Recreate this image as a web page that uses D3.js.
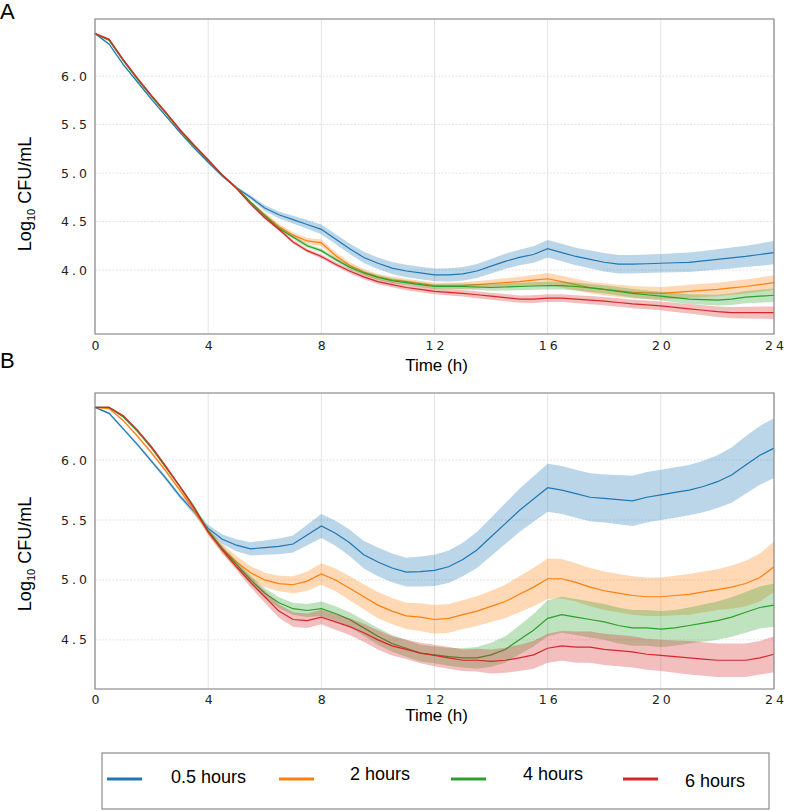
<!DOCTYPE html>
<html>
<head>
<meta charset="utf-8">
<script src="https://cdn.jsdelivr.net/npm/d3@7"></script>
<style>
  body { margin: 0; background: #fff; }
  svg { display: block; font-family: "Liberation Sans", Arial, sans-serif; }
  .tick text { font-family: "DejaVu Sans", sans-serif; font-size: 12.5px; letter-spacing: 3px; fill: #222; }
</style>
</head>
<body>
<div id="chart"></div>
<script>
let hours = [0, 0.5, 1, 1.5, 2, 2.5, 3, 3.5, 4, 4.5, 5, 5.5, 6, 6.5, 7, 7.5, 8, 8.5, 9, 9.5, 10, 10.5, 11, 11.5, 12,
  12.5, 13, 13.5, 14, 14.5, 15, 15.5, 16, 16.5, 17, 17.5, 18, 18.5, 19, 19.5, 20, 20.5, 21, 21.5, 22, 22.5, 23, 23.5, 24]

let seriesNames = ["0.5 hours", "2 hours", "4 hours", "6 hours"]
let xTicks = [0, 4, 8, 12, 16, 20, 24]
let yTicksA = [4.0, 4.5, 5.0, 5.5, 6.0]
let yTicksB = [4.5, 5.0, 5.5, 6.0]

// panel A means (log10 CFU/mL)
let aBlue = [6.44, 6.33, 6.12, 5.94, 5.76, 5.59, 5.42, 5.26, 5.11, 4.97, 4.85, 4.75, 4.64, 4.57, 4.52, 4.47, 4.42, 4.32, 4.22, 4.13, 4.07, 4.02, 3.99, 3.97, 3.95,
  3.95, 3.96, 3.99, 4.04, 4.09, 4.13, 4.16, 4.22, 4.18, 4.14, 4.11, 4.08, 4.06, 4.06, 4.065, 4.07, 4.075, 4.08, 4.095, 4.11, 4.125, 4.14, 4.16, 4.18]
let aOrange = [6.44, 6.37, 6.16, 5.97, 5.79, 5.62, 5.44, 5.28, 5.13, 4.98, 4.85, 4.70, 4.57, 4.45, 4.36, 4.30, 4.28, 4.15, 4.05, 3.98, 3.93, 3.90, 3.88, 3.86, 3.84,
  3.84, 3.84, 3.85, 3.86, 3.87, 3.88, 3.895, 3.91, 3.88, 3.85, 3.82, 3.80, 3.785, 3.77, 3.765, 3.76, 3.77, 3.78, 3.79, 3.80, 3.815, 3.83, 3.85, 3.87]
let aGreen = [6.44, 6.37, 6.16, 5.97, 5.79, 5.62, 5.44, 5.28, 5.13, 4.98, 4.85, 4.70, 4.56, 4.43, 4.34, 4.25, 4.20, 4.11, 4.03, 3.97, 3.925, 3.89, 3.87, 3.85, 3.83,
  3.83, 3.83, 3.825, 3.82, 3.825, 3.83, 3.835, 3.84, 3.84, 3.83, 3.815, 3.80, 3.78, 3.76, 3.745, 3.73, 3.715, 3.70, 3.695, 3.69, 3.70, 3.72, 3.73, 3.74]
let aRed = [6.44, 6.38, 6.17, 5.98, 5.80, 5.63, 5.45, 5.29, 5.14, 4.98, 4.84, 4.68, 4.54, 4.42, 4.29, 4.20, 4.14, 4.06, 3.99, 3.93, 3.88, 3.85, 3.82, 3.80, 3.78,
  3.77, 3.76, 3.745, 3.73, 3.715, 3.70, 3.70, 3.71, 3.71, 3.70, 3.69, 3.68, 3.665, 3.65, 3.64, 3.63, 3.615, 3.60, 3.585, 3.57, 3.56, 3.56, 3.56, 3.56]

// panel A band half-widths
let aBlueSd = [0.01, 0.01, 0.01, 0.01, 0.01, 0.01, 0.01, 0.01, 0.01, 0.012, 0.015, 0.02, 0.03, 0.035, 0.04, 0.045, 0.05, 0.052, 0.055, 0.058, 0.06, 0.062, 0.065, 0.065, 0.065,
  0.068, 0.07, 0.072, 0.075, 0.078, 0.08, 0.085, 0.09, 0.09, 0.09, 0.092, 0.095, 0.095, 0.095, 0.095, 0.095, 0.098, 0.1, 0.102, 0.105, 0.108, 0.11, 0.115, 0.12]
let aOrangeSd = [0.01, 0.01, 0.01, 0.01, 0.01, 0.01, 0.01, 0.01, 0.01, 0.01, 0.01, 0.015, 0.02, 0.025, 0.03, 0.03, 0.035, 0.035, 0.03, 0.03, 0.03, 0.03, 0.03, 0.03, 0.03,
  0.032, 0.035, 0.038, 0.04, 0.045, 0.05, 0.055, 0.06, 0.06, 0.06, 0.06, 0.062, 0.063, 0.064, 0.065, 0.065, 0.066, 0.067, 0.068, 0.07, 0.071, 0.072, 0.074, 0.075]
let aGreenSd = [0.01, 0.01, 0.01, 0.01, 0.01, 0.01, 0.01, 0.01, 0.01, 0.01, 0.01, 0.012, 0.015, 0.018, 0.02, 0.02, 0.02, 0.02, 0.022, 0.022, 0.024, 0.024, 0.025, 0.025, 0.025,
  0.028, 0.03, 0.032, 0.034, 0.036, 0.038, 0.039, 0.04, 0.04, 0.041, 0.042, 0.043, 0.044, 0.044, 0.045, 0.045, 0.048, 0.05, 0.053, 0.056, 0.06, 0.063, 0.067, 0.07]
let aRedSd = [0.01, 0.01, 0.01, 0.01, 0.01, 0.01, 0.01, 0.01, 0.01, 0.01, 0.01, 0.012, 0.015, 0.018, 0.02, 0.02, 0.02, 0.022, 0.024, 0.025, 0.026, 0.027, 0.028, 0.029, 0.03,
  0.032, 0.034, 0.035, 0.036, 0.037, 0.038, 0.039, 0.04, 0.04, 0.041, 0.042, 0.043, 0.044, 0.044, 0.045, 0.045, 0.047, 0.049, 0.052, 0.055, 0.058, 0.06, 0.063, 0.065]

// panel B means
let bBlue = [6.44, 6.39, 6.26, 6.13, 5.99, 5.85, 5.70, 5.57, 5.43, 5.34, 5.29, 5.26, 5.27, 5.28, 5.30, 5.375, 5.45, 5.39, 5.31, 5.21, 5.15, 5.10, 5.065, 5.07, 5.08,
  5.11, 5.17, 5.25, 5.36, 5.47, 5.58, 5.675, 5.77, 5.75, 5.72, 5.69, 5.68, 5.67, 5.66, 5.69, 5.71, 5.73, 5.75, 5.78, 5.82, 5.875, 5.96, 6.04, 6.10]
let bOrange = [6.44, 6.43, 6.33, 6.20, 6.06, 5.91, 5.75, 5.58, 5.40, 5.26, 5.15, 5.06, 5.00, 4.97, 4.96, 4.99, 5.05, 5.00, 4.93, 4.86, 4.79, 4.74, 4.70, 4.69, 4.67,
  4.68, 4.71, 4.74, 4.78, 4.82, 4.88, 4.94, 5.01, 5.01, 4.98, 4.94, 4.91, 4.89, 4.87, 4.86, 4.86, 4.87, 4.88, 4.90, 4.92, 4.94, 4.97, 5.02, 5.11]
let bGreen = [6.44, 6.44, 6.36, 6.24, 6.10, 5.94, 5.78, 5.61, 5.41, 5.26, 5.13, 5.00, 4.89, 4.81, 4.76, 4.745, 4.76, 4.72, 4.67, 4.60, 4.53, 4.47, 4.43, 4.39, 4.375,
  4.36, 4.35, 4.35, 4.375, 4.42, 4.50, 4.58, 4.68, 4.71, 4.69, 4.67, 4.65, 4.62, 4.60, 4.60, 4.59, 4.60, 4.62, 4.64, 4.66, 4.69, 4.73, 4.77, 4.79]
let bRed = [6.44, 6.44, 6.37, 6.25, 6.11, 5.95, 5.78, 5.60, 5.40, 5.25, 5.11, 4.98, 4.86, 4.74, 4.67, 4.66, 4.69, 4.65, 4.61, 4.56, 4.50, 4.45, 4.42, 4.39, 4.37,
  4.35, 4.33, 4.33, 4.32, 4.33, 4.35, 4.375, 4.43, 4.45, 4.44, 4.44, 4.42, 4.41, 4.40, 4.38, 4.37, 4.36, 4.35, 4.34, 4.33, 4.33, 4.33, 4.35, 4.38]

// panel B band half-widths
let bBlueSd = [0.005, 0.01, 0.01, 0.012, 0.015, 0.018, 0.02, 0.025, 0.03, 0.04, 0.05, 0.055, 0.06, 0.065, 0.07, 0.085, 0.1, 0.105, 0.11, 0.115, 0.12, 0.12, 0.12, 0.125, 0.13,
  0.135, 0.14, 0.15, 0.16, 0.17, 0.18, 0.19, 0.2, 0.2, 0.2, 0.2, 0.2, 0.205, 0.21, 0.21, 0.21, 0.21, 0.21, 0.215, 0.22, 0.23, 0.24, 0.245, 0.25]
let bOrangeSd = [0.005, 0.008, 0.01, 0.012, 0.014, 0.016, 0.018, 0.022, 0.03, 0.04, 0.05, 0.055, 0.06, 0.065, 0.07, 0.08, 0.09, 0.095, 0.1, 0.105, 0.11, 0.11, 0.11, 0.115, 0.12,
  0.12, 0.12, 0.125, 0.13, 0.14, 0.15, 0.16, 0.17, 0.165, 0.16, 0.16, 0.16, 0.16, 0.16, 0.16, 0.16, 0.165, 0.17, 0.17, 0.17, 0.18, 0.19, 0.2, 0.21]
let bGreenSd = [0.005, 0.006, 0.008, 0.009, 0.01, 0.011, 0.012, 0.015, 0.02, 0.025, 0.03, 0.035, 0.04, 0.045, 0.05, 0.055, 0.06, 0.06, 0.06, 0.065, 0.07, 0.07, 0.07, 0.07, 0.07,
  0.075, 0.08, 0.09, 0.1, 0.11, 0.12, 0.135, 0.15, 0.15, 0.15, 0.15, 0.15, 0.15, 0.15, 0.15, 0.15, 0.15, 0.15, 0.155, 0.16, 0.165, 0.17, 0.175, 0.18]
let bRedSd = [0.005, 0.006, 0.008, 0.009, 0.01, 0.011, 0.012, 0.015, 0.02, 0.025, 0.03, 0.04, 0.05, 0.055, 0.06, 0.06, 0.06, 0.065, 0.07, 0.075, 0.08, 0.08, 0.08, 0.085, 0.09,
  0.09, 0.09, 0.095, 0.1, 0.105, 0.11, 0.115, 0.12, 0.125, 0.13, 0.13, 0.13, 0.13, 0.13, 0.13, 0.13, 0.135, 0.14, 0.14, 0.14, 0.14, 0.14, 0.14, 0.15]

let colors = ["#1f77b4", "#ff7f0e", "#2ca02c", "#d62728"]

let w = 786
let h = 812
let left = 95
let right = 774

let svg = d3.select("#chart")
  .append("svg")
  .attr("width", w)
  .attr("height", h)

let x = d3.scaleLinear().domain([0, 24]).range([left, right])

let drawPanel = (p) => {
  let y = d3.scaleLinear().domain(p.yDomain).range([p.bottom, p.top])
  let g = svg.append("g")

  // grid
  g.selectAll(".vgrid").data(xTicks).enter().append("line")
    .attr("x1", d => x(d)).attr("x2", d => x(d))
    .attr("y1", p.top).attr("y2", p.bottom)
    .attr("stroke", "#dcdcdc").attr("stroke-width", 0.8)
  g.selectAll(".hgrid").data(p.yTicks).enter().append("line")
    .attr("x1", left).attr("x2", right)
    .attr("y1", d => y(d)).attr("y2", d => y(d))
    .attr("stroke", "#dcdcdc").attr("stroke-width", 0.8)
    .attr("stroke-dasharray", "2,1.5")

  let rows = p.means.map((m, i) => hours.map((t, j) => ({ t: t, v: m[j], sd: p.sds[i][j] })))

  let area = d3.area()
    .x(d => x(d.t))
    .y0(d => y(d.v - d.sd))
    .y1(d => y(d.v + d.sd))
  let line = d3.line()
    .x(d => x(d.t))
    .y(d => y(d.v))

  rows.forEach((r, i) => {
    g.append("path").datum(r)
      .attr("d", area)
      .attr("fill", colors[i])
      .attr("fill-opacity", 0.3)
    g.append("path").datum(r)
      .attr("d", line)
      .attr("fill", "none")
      .attr("stroke", colors[i])
      .attr("stroke-width", 1.2)
  })

  // axes
  let xAxis = d3.axisBottom(x).tickValues(xTicks).tickSize(0).tickPadding(p.xPad).tickFormat(d3.format("d"))
  let yAxis = d3.axisLeft(y).tickValues(p.yTicks).tickSize(0).tickPadding(5).tickFormat(d3.format(".1f"))
  g.append("g").attr("transform", `translate(0,${p.bottom})`).call(xAxis)
    .call(a => a.select(".domain").remove())
    .call(a => a.selectAll(".tick text").attr("dx", "0.12em"))
  g.append("g").attr("transform", `translate(${left},0)`).call(yAxis)
    .call(a => a.select(".domain").remove())

  // frame
  g.append("rect")
    .attr("x", left).attr("y", p.top)
    .attr("width", right - left).attr("height", p.bottom - p.top)
    .attr("fill", "none").attr("stroke", "#8c8c8c").attr("stroke-width", 1.2)

  g.append("text")
    .attr("x", (left + right) / 2 + 2).attr("y", p.xTitleY)
    .attr("text-anchor", "middle").attr("font-size", 17)
    .text("Time (h)")

  let yl = g.append("text")
    .attr("transform", `translate(31,${p.yTitleY}) rotate(-90)`)
    .attr("text-anchor", "middle").attr("font-size", 18)
  yl.append("tspan").text("Log")
  yl.append("tspan").attr("font-size", 11).attr("dy", 4).text("10")
  yl.append("tspan").attr("dy", -4).text(" CFU/mL")

  g.append("text")
    .attr("x", 0).attr("y", p.labelY)
    .attr("font-size", 22)
    .text(p.label)
}

drawPanel({
  label: "A", labelY: 19, top: 19, bottom: 334, yDomain: [3.34, 6.59], yTicks: yTicksA,
  xPad: 7, xTitleY: 371, yTitleY: 194,
  means: [aBlue, aOrange, aGreen, aRed], sds: [aBlueSd, aOrangeSd, aGreenSd, aRedSd]
})
drawPanel({
  label: "B", labelY: 368, top: 393, bottom: 689, yDomain: [4.09, 6.56], yTicks: yTicksB,
  xPad: 6, xTitleY: 721, yTitleY: 554,
  means: [bBlue, bOrange, bGreen, bRed], sds: [bBlueSd, bOrangeSd, bGreenSd, bRedSd]
})

// legend
let legend = svg.append("g")
legend.append("rect")
  .attr("x", 102).attr("y", 753).attr("width", 667).attr("height", 56)
  .attr("fill", "#fff").attr("stroke", "#8c8c8c").attr("stroke-width", 1.2)

let legendX = [107, 279, 451, 623]
let legendTextX = [171, 350, 523, 685]
let legendTextY = [783, 780, 780, 787]
seriesNames.forEach((n, i) => {
  legend.append("line")
    .attr("x1", legendX[i]).attr("x2", legendX[i] + 35)
    .attr("y1", 779).attr("y2", 779)
    .attr("stroke", colors[i]).attr("stroke-width", 3)
  legend.append("text")
    .attr("x", legendTextX[i]).attr("y", legendTextY[i])
    .attr("font-size", 18)
    .text(n)
})
</script>
</body>
</html>
